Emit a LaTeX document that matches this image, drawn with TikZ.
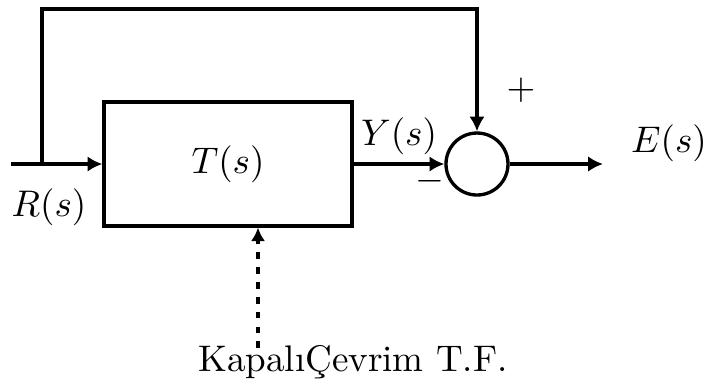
\documentclass[tikz,border=0pt]{standalone}
\usetikzlibrary{arrows.meta}
\begin{document}
\begin{tikzpicture}[x=0.27pt,y=-0.27pt,
  wire/.style={line width=0.9pt},
  arr/.style={wire,-{Latex[length=4pt,width=4.2pt]}},
  blockbox/.style={draw,line width=0.9pt,minimum width=248*0.27pt,minimum height=124*0.27pt,inner sep=0pt},
  sumnode/.style={draw,line width=0.9pt,circle,minimum size=62*0.27pt,inner sep=0pt},
  lbl/.style={inner sep=0pt}]
\useasboundingbox (0,0) rectangle (709,383);
\node[blockbox] (T) at (228,164) {$T(s)$};
\node[sumnode] (S) at (477,164) {};
\coordinate (in) at (11,164);
\coordinate (br) at (42,164);
\coordinate (out) at (603,164);
\coordinate (dstart) at (258,348);
\draw[wire] (in) -- (br);
\draw[arr] (br) -- (T.west);
\draw[arr] (br) -- (42,9) -- (S.north |- 0,9) -- (S.north);
\draw[arr] (T.east) -- (S.west);
\draw[arr] (S.east) -- (out);
\draw[line width=1pt,dash pattern=on 1.8pt off 2.2pt,-{Latex[length=3.6pt,width=3.8pt]}] (dstart) -- (dstart |- T.south);
\node[lbl] (R) at (49,207) {$R(s)$};
\node[lbl] (Y) at (399,136) {$Y(s)$};
\node[lbl] (E) at (669,143) {$E(s)$};
\node[lbl] (plus) at (521,90) {$+$};
\node[lbl] (minus) at (430,181) {$-$};
\node[lbl,anchor=base] (cap) at (353,371) {KapalıÇevrim T.F.};
\end{tikzpicture}
\end{document}
